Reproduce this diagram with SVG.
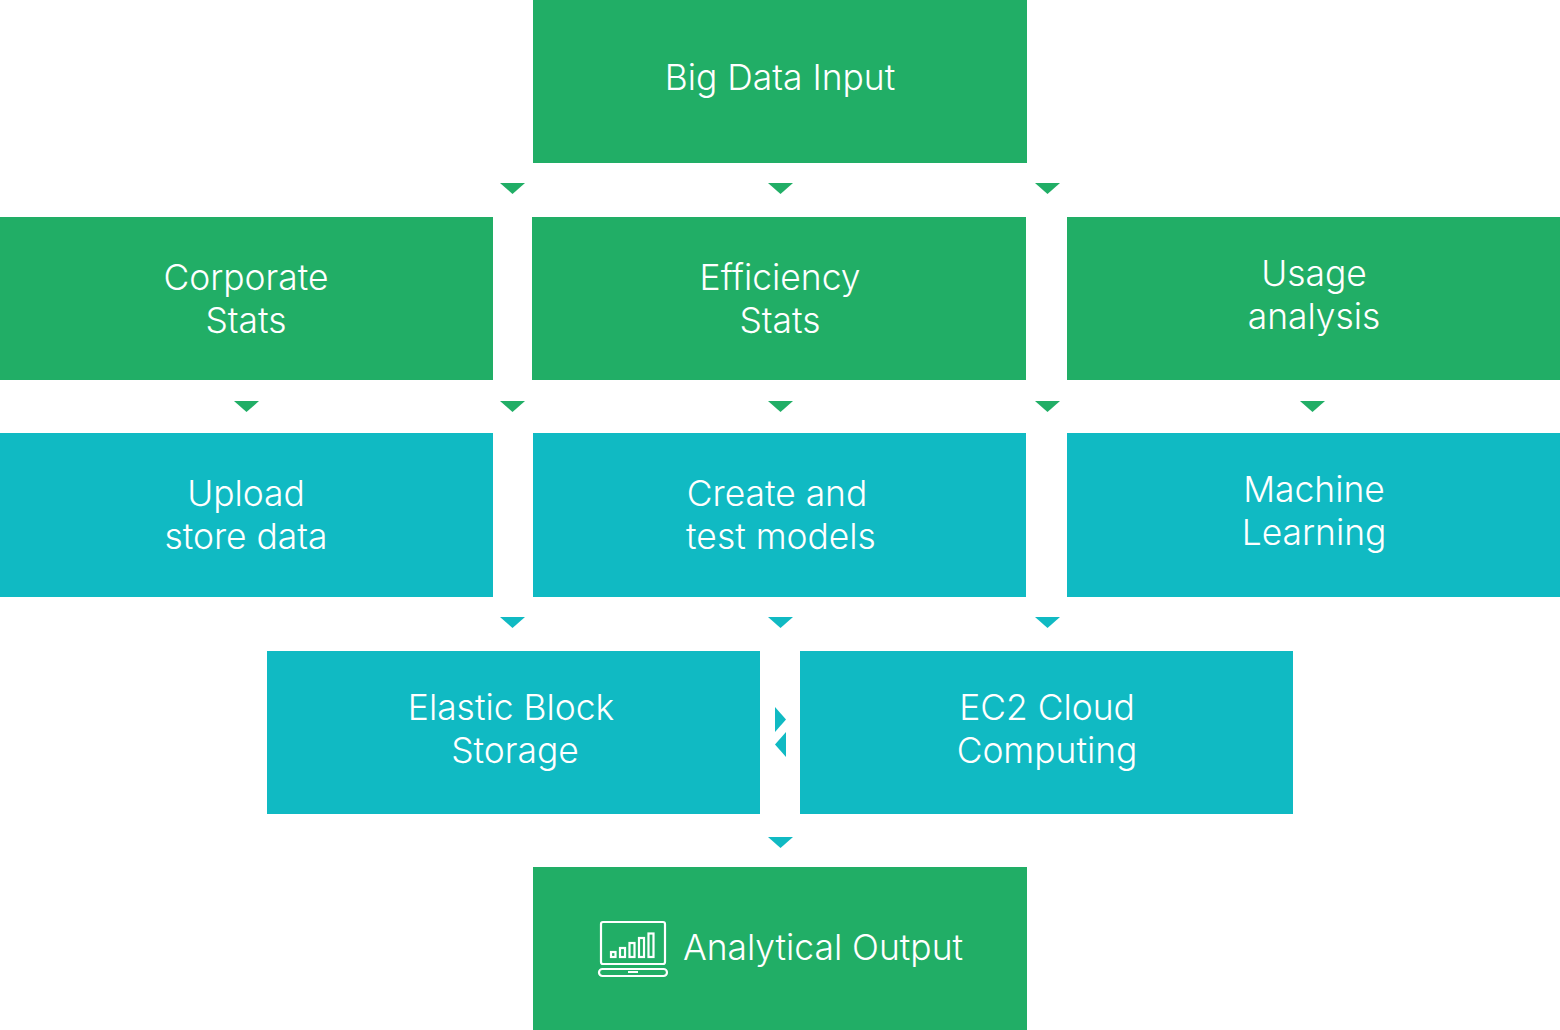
<svg xmlns="http://www.w3.org/2000/svg" width="1560" height="1030" viewBox="0 0 1560 1030">
<style>
.g{fill:#21ae66}.b{fill:#10bac3}
text{font-family:"Inter","Roboto","Liberation Sans",sans-serif;font-weight:300;font-size:35.4px;fill:#fff;text-anchor:middle}
.i{fill:none;stroke:#fff;stroke-width:2.200}
</style>
<defs>
<polygon id="dg" class="g" points="-12.500,0 12.500,0 0,11"/>
<polygon id="db" class="b" points="-12.500,0 12.500,0 0,11"/>
</defs>
<rect width="1560" height="1030" fill="#fff"/>
<g id="connectors">
<use href="#dg" x="512.500" y="183"/><use href="#dg" x="780.500" y="183"/><use href="#dg" x="1047.500" y="183"/>
<use href="#dg" x="246.500" y="401"/><use href="#dg" x="512.500" y="401"/><use href="#dg" x="780.500" y="401"/><use href="#dg" x="1047.500" y="401"/><use href="#dg" x="1312.500" y="401"/>
<use href="#db" x="512.500" y="617"/><use href="#db" x="780.500" y="617"/><use href="#db" x="1047.500" y="617"/>
<polygon class="b" points="775,707 786,719.500 775,732"/>
<polygon class="b" points="786,732 775,744.500 786,757"/>
<use href="#db" x="780.500" y="837"/>
</g>
<g id="big-data-input"><rect class="g" x="533" y="0" width="494" height="163"/><text x="780" y="90">Big Data Input</text></g>
<g id="corporate-stats"><rect class="g" x="0" y="217" width="493" height="163"/><text x="246" y="290">Corporate</text><text x="246" y="333">Stats</text></g>
<g id="efficiency-stats"><rect class="g" x="532" y="217" width="494" height="163"/><text x="780" y="290">Efficiency</text><text x="780" y="333">Stats</text></g>
<g id="usage-analysis"><rect class="g" x="1067" y="217" width="493" height="163"/><text x="1314" y="286">Usage</text><text x="1314" y="329">analysis</text></g>
<g id="upload-store-data"><rect class="b" x="0" y="433" width="493" height="164"/><text x="246" y="506">Upload</text><text x="246" y="549">store data</text></g>
<g id="create-test-models"><rect class="b" x="533" y="433" width="493" height="164"/><text x="777" y="506">Create and</text><text x="781" y="549">test models</text></g>
<g id="machine-learning"><rect class="b" x="1067" y="433" width="493" height="164"/><text x="1314" y="502">Machine</text><text x="1314" y="545">Learning</text></g>
<g id="elastic-block-storage"><rect class="b" x="267" y="651" width="493" height="163"/><text x="511" y="720">Elastic Block</text><text x="515" y="763">Storage</text></g>
<g id="ec2-cloud-computing"><rect class="b" x="800" y="651" width="493" height="163"/><text x="1047" y="719.500">EC2 Cloud</text><text x="1047" y="763">Computing</text></g>
<g id="analytical-output"><rect class="g" x="533" y="867" width="494" height="163"/>
<g id="laptop-icon">
<rect class="i" x="601" y="922" width="64" height="42" rx="2"/>
<rect class="i" x="599" y="969" width="68" height="7" rx="3.500"/>
<rect x="628" y="971" width="10" height="2" fill="#fff"/>
<rect class="i" x="611" y="952" width="4.500" height="5"/>
<rect class="i" x="620" y="948" width="5" height="9"/>
<rect class="i" x="629.500" y="943" width="5" height="14"/>
<rect class="i" x="639" y="938" width="5" height="19"/>
<rect class="i" x="648.500" y="933.500" width="5" height="23.500"/>
</g>
<text x="823" y="960">Analytical Output</text></g>
</svg>
